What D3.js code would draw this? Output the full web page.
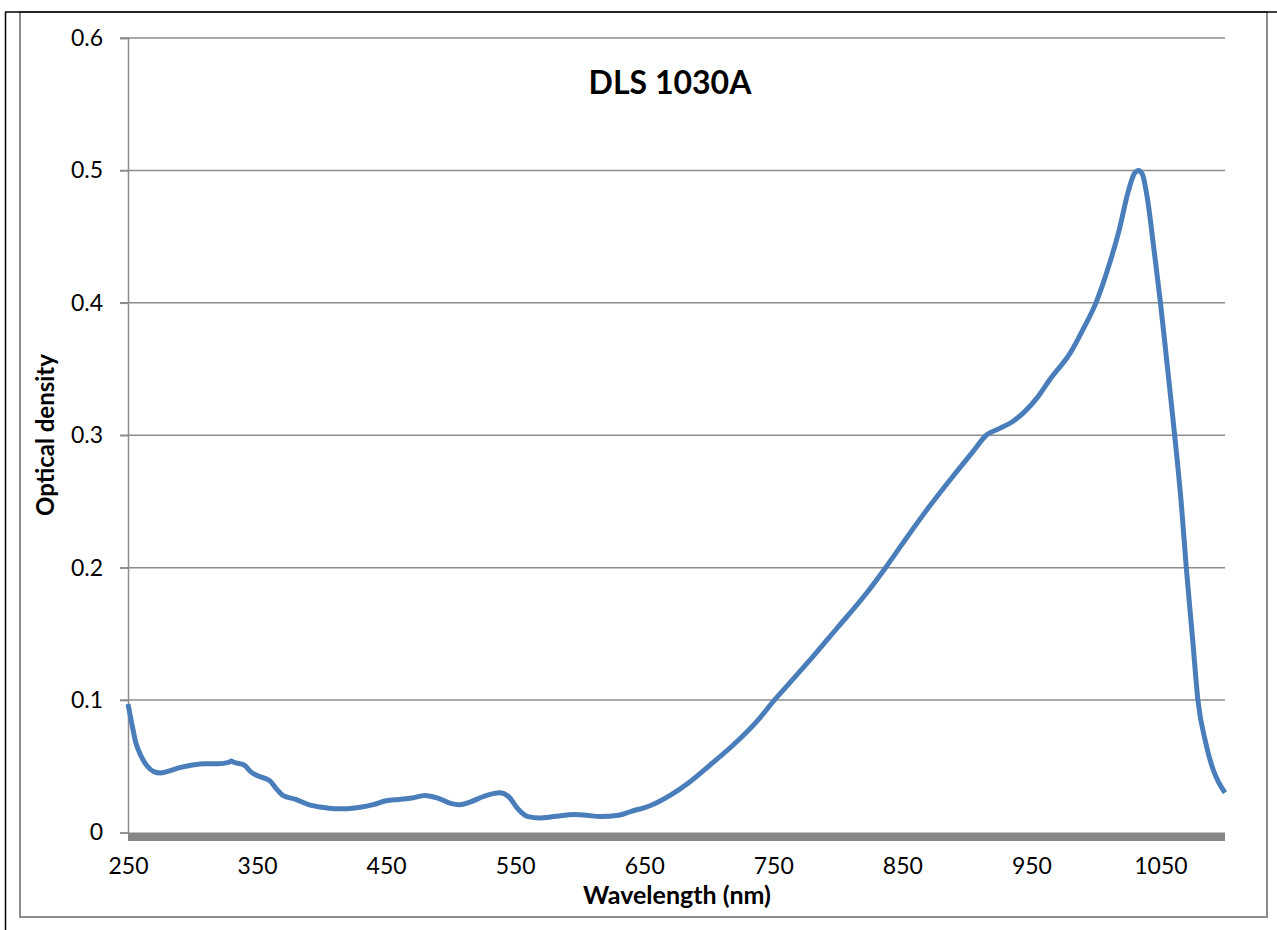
<html>
<head>
<script src="https://d3js.org/d3.v7.min.js"></script>
<style>
  body { margin: 0; background: #fff; }
  text { font-family: Lato, "Open Sans", sans-serif; fill: #000; }
</style>
</head>
<body>
<div id="main"></div>
<script>
// wavelength (nm) and optical density
var wavelength = [250, 253, 256, 260, 265, 270, 275, 280, 290, 300, 310, 320, 328, 330, 332, 340, 345, 350, 360, 365, 370, 380, 390, 400, 410, 420, 430, 440, 450, 460, 470, 480, 490, 500, 507, 515, 525, 538, 545, 552, 560, 569, 580, 596, 605, 616, 630, 640, 654, 670, 685, 701, 720, 740, 750, 760, 780, 800, 820, 837, 850, 870, 890, 905, 915, 925, 935, 945, 955, 965, 980, 990, 1000, 1010, 1018, 1025, 1030, 1033, 1036, 1040, 1045, 1050, 1055, 1061, 1066, 1070, 1075, 1079, 1085, 1091, 1095, 1100];
var density    = [0.097, 0.082, 0.068, 0.058, 0.050, 0.046, 0.045, 0.046, 0.049, 0.051, 0.052, 0.052, 0.053, 0.054, 0.053, 0.051, 0.046, 0.043, 0.039, 0.033, 0.028, 0.025, 0.021, 0.019, 0.018, 0.018, 0.019, 0.021, 0.024, 0.025, 0.026, 0.028, 0.026, 0.022, 0.021, 0.023, 0.027, 0.030, 0.027, 0.018, 0.012, 0.011, 0.012, 0.0135, 0.013, 0.012, 0.013, 0.016, 0.020, 0.028, 0.038, 0.051, 0.067, 0.087, 0.099, 0.110, 0.132, 0.155, 0.178, 0.200, 0.218, 0.245, 0.270, 0.288, 0.300, 0.305, 0.310, 0.318, 0.329, 0.343, 0.362, 0.380, 0.400, 0.428, 0.455, 0.484, 0.498, 0.500, 0.497, 0.478, 0.440, 0.400, 0.355, 0.300, 0.250, 0.200, 0.145, 0.100, 0.068, 0.047, 0.038, 0.030];

var xTicks = [250, 350, 450, 550, 650, 750, 850, 950, 1050];
var yTicks = [0, 0.1, 0.2, 0.3, 0.4, 0.5, 0.6];

var W = 1277, H = 930;
var plot = { left: 128, right: 1225, top: 38, bottom: 832.5 };

var svg = d3.select("#main").append("svg")
    .attr("width", W).attr("height", H);

// page / frame lines
svg.append("rect")
    .attr("x", 20).attr("y", 12).attr("width", 1247).attr("height", 905)
    .attr("fill", "none").attr("stroke", "#8c8c8c").attr("stroke-width", 2);
svg.append("line").attr("x1", 5).attr("x2", W).attr("y1", 12).attr("y2", 12)
    .attr("stroke", "#000").attr("stroke-width", 1.5);
svg.append("line").attr("x1", 5.5).attr("x2", 5.5).attr("y1", 12).attr("y2", H)
    .attr("stroke", "#000").attr("stroke-width", 1.5);

var x = d3.scaleLinear().domain([250, 1100]).range([plot.left, plot.right]);
var y = d3.scaleLinear().domain([0, 0.6]).range([plot.bottom, plot.top]);

// gridlines
svg.append("g").selectAll("line")
    .data(yTicks.filter(function (d) { return d > 0; }))
    .enter().append("line")
    .attr("x1", plot.left - 8).attr("x2", plot.right)
    .attr("y1", function (d) { return y(d); })
    .attr("y2", function (d) { return y(d); })
    .attr("stroke", "#8c8c8c").attr("stroke-width", 1.5);

// y axis
var yAxis = svg.append("g")
    .attr("transform", "translate(" + plot.left + ",0)")
    .call(d3.axisLeft(y).tickValues(yTicks).tickSize(8).tickPadding(17)
        .tickFormat(function (d) { return d === 0 ? "0" : d3.format(".1f")(d); }));
yAxis.select(".domain").attr("stroke", "#8c8c8c").attr("stroke-width", 1.5);
yAxis.selectAll(".tick line").attr("stroke", "#8c8c8c").attr("stroke-width", 1.5);
yAxis.selectAll(".tick text").style("font-size", "23px").style("font-family", "Lato");

// thick zero bar
svg.append("rect")
    .attr("x", plot.left).attr("y", y(0))
    .attr("width", plot.right - plot.left).attr("height", 8.5)
    .attr("fill", "#868686");

// x axis labels
var xAxis = svg.append("g")
    .attr("transform", "translate(0," + y(0) + ")")
    .call(d3.axisBottom(x).tickValues(xTicks).tickSize(0).tickPadding(25)
        .tickFormat(d3.format("d")));
xAxis.select(".domain").remove();
xAxis.selectAll(".tick text").style("font-size", "23px").style("font-family", "Lato");

// spectrum
var line = d3.line()
    .x(function (d, i) { return x(wavelength[i]); })
    .y(function (d) { return y(d); })
    .curve(d3.curveMonotoneX);

svg.append("path")
    .datum(density)
    .attr("d", line)
    .attr("fill", "none")
    .attr("stroke", "#4a7ebb")
    .attr("stroke-width", 5)
    .attr("stroke-linejoin", "round");

// titles
svg.append("text")
    .attr("x", 670).attr("y", 94)
    .attr("text-anchor", "middle")
    .style("font-size", "32px").style("font-weight", "bold")
    .text("DLS 1030A");

svg.append("text")
    .attr("x", 677).attr("y", 904)
    .attr("text-anchor", "middle")
    .style("font-size", "25px").style("font-weight", "bold")
    .text("Wavelength (nm)");

svg.append("text")
    .attr("transform", "translate(54,435) rotate(-90)")
    .attr("text-anchor", "middle")
    .style("font-size", "24px").style("font-weight", "bold")
    .text("Optical density");
</script>
</body>
</html>
